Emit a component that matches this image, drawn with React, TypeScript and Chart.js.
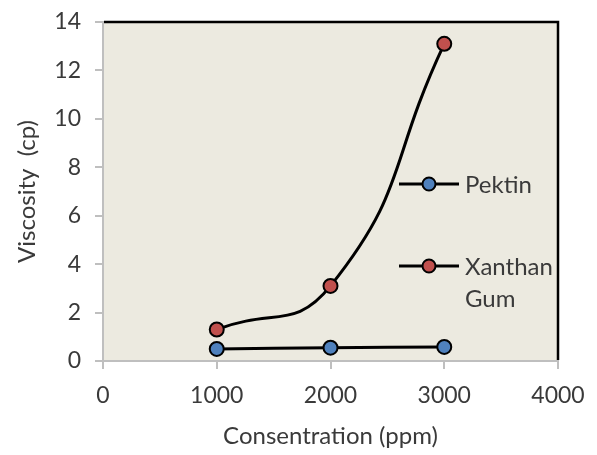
import React, { useEffect, useRef } from "react";
import { Chart, registerables } from "chart.js";

Chart.register(...registerables);

const concentrations = [1000, 2000, 3000];
const pektin = [0.5, 0.55, 0.58];
const xanthan = [1.3, 3.1, 13.1];
const seriesLabels = ["Pektin", "Xanthan Gum"];
const seriesColors = ["#4F81BD", "#C0504D"];
const xTitle = "Consentration (ppm)";
const yTitle = "Viscosity  (cp)";

const FONT = "Lato, 'Open Sans', sans-serif";
const TEXT = "#3A3A3A";
const AXIS = "#BFBFBF";

const bgPlugin = {
  id: "plotBg",
  beforeDraw(chart: any) {
    const { ctx, chartArea } = chart;
    ctx.save();
    ctx.fillStyle = "#ECEAE0";
    ctx.fillRect(chartArea.left, chartArea.top, chartArea.right - chartArea.left, chartArea.bottom - chartArea.top);
    ctx.restore();
  },
  afterDraw(chart: any) {
    const { ctx, chartArea } = chart;
    ctx.save();
    ctx.strokeStyle = "#000";
    ctx.lineWidth = 2.5;
    ctx.beginPath();
    ctx.moveTo(chartArea.left + 1, chartArea.top);
    ctx.lineTo(chartArea.right, chartArea.top);
    ctx.lineTo(chartArea.right, chartArea.bottom - 1);
    ctx.stroke();

    // legend
    const items = chart.data.datasets;
    const x0 = chartArea.right - 159;
    const ys = [chartArea.top + 162, chartArea.top + 244];
    ctx.font = "24px " + FONT;
    ctx.textBaseline = "middle";
    ctx.textAlign = "left";
    items.forEach((ds: any, i: number) => {
      const y = ys[i];
      ctx.strokeStyle = "#000";
      ctx.lineWidth = 3;
      ctx.beginPath();
      ctx.moveTo(x0, y);
      ctx.lineTo(x0 + 60, y);
      ctx.stroke();
      ctx.beginPath();
      ctx.arc(x0 + 30, y, 6.5, 0, Math.PI * 2);
      ctx.fillStyle = ds.pointBackgroundColor;
      ctx.fill();
      ctx.lineWidth = 2;
      ctx.stroke();
      ctx.fillStyle = TEXT;
      const words = String(ds.label).split(" ");
      words.forEach((w: string, k: number) => {
        ctx.fillText(w, x0 + 66, y + 1 + k * 32);
      });
    });
    ctx.restore();
  },
};

export default function App() {
  const ref = useRef<HTMLCanvasElement>(null);
  useEffect(() => {
    document.body.style.margin = "0";
    const mk = (vals: number[]) => concentrations.map((c, i) => ({ x: c, y: vals[i] }));
    const ds = (label: string, vals: number[], color: string) => ({
      label,
      data: mk(vals),
      borderColor: "#000",
      borderWidth: 3,
      pointBackgroundColor: color,
      pointBorderColor: "#000",
      pointBorderWidth: 2,
      pointRadius: 7,
      tension: 0.5,
    });
    const chart = new Chart(ref.current!, {
      type: "line",
      data: {
        datasets: [
          ds(seriesLabels[0], pektin, seriesColors[0]),
          ds(seriesLabels[1], xanthan, seriesColors[1]),
        ],
      },
      options: {
        animation: false,
        responsive: false,
        layout: { padding: { top: 22, right: 39, left: 0, bottom: 0 } },
        plugins: { legend: { display: false }, tooltip: { enabled: false } },
        scales: {
          x: {
            type: "linear",
            min: 0,
            max: 4000,
            ticks: {
              stepSize: 1000,
              color: TEXT,
              font: { family: FONT, size: 23 },
              padding: 13,
              maxRotation: 0,
              callback: (v: any) => String(v),
            },
            grid: { drawOnChartArea: false, drawTicks: true, tickLength: 8, color: AXIS, lineWidth: 2 },
            border: { color: AXIS, width: 2 },
            title: { display: true, text: xTitle, color: TEXT, font: { family: FONT, size: 24 }, padding: { top: 6 } },
            afterFit(s: any) { s.height = 94; s.paddingLeft = 0; s.paddingRight = 0; },
          },
          y: {
            min: 0,
            max: 14,
            ticks: { stepSize: 2, color: TEXT, font: { family: FONT, size: 23 }, padding: 14, callback: (v: any) => String(v) },
            grid: { drawOnChartArea: false, drawTicks: true, tickLength: 8, color: AXIS, lineWidth: 2 },
            border: { color: AXIS, width: 2 },
            title: { display: true, text: yTitle, color: TEXT, font: { family: FONT, size: 24 }, padding: { top: 13, bottom: 0 } },
            afterFit(s: any) { s.width = 103; s.paddingTop = 0; s.paddingBottom = 0; },
          },
        },
      },
      plugins: [bgPlugin],
    });
    return () => chart.destroy();
  }, []);
  return <canvas ref={ref} width={597} height={455} style={{ display: "block" }} />;
}
